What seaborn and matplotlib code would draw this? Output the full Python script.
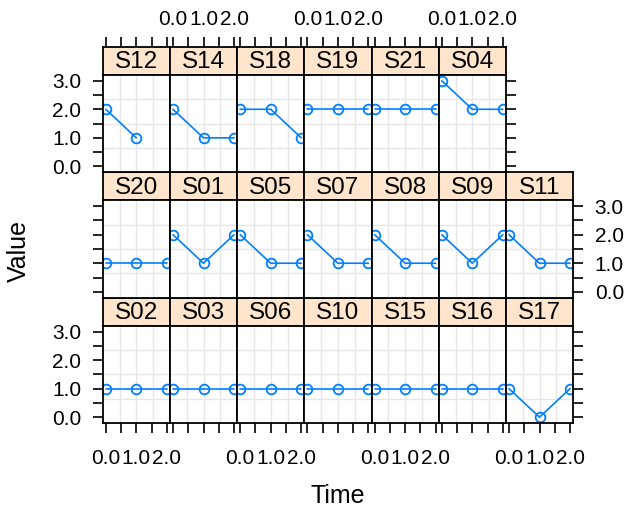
import matplotlib.pyplot as plt
import numpy as np
import pandas as pd
import seaborn as sns

plt.switch_backend("Agg")

# panels in trellis order: bottom-left first, then row by row upwards
subjects = ["S02", "S03", "S06", "S10", "S15", "S16", "S17",
            "S20", "S01", "S05", "S07", "S08", "S09", "S11",
            "S12", "S14", "S18", "S19", "S21", "S04"]
times = [0, 1, 2]
values = [[1, 1, 1], [1, 1, 1], [1, 1, 1], [1, 1, 1], [1, 1, 1], [1, 1, 1], [1, 0, 1],
          [1, 1, 1], [2, 1, 2], [2, 1, 1], [2, 1, 1], [2, 1, 1], [2, 1, 2], [2, 1, 1],
          [2, 1], [2, 1, 1], [2, 2, 1], [2, 2, 2], [2, 2, 2], [3, 2, 2]]

x_ticks = [0.0, 0.5, 1.0, 1.5, 2.0]
x_labels = ["0.0", "", "1.0", "", "2.0"]
y_ticks = [0.0, 0.5, 1.0, 1.5, 2.0, 2.5, 3.0]
y_labels = ["0.0", "", "1.0", "", "2.0", "", "3.0"]

rows = [(s, t, v) for s, vals in zip(subjects, values) for t, v in zip(times, vals)]
df = pd.DataFrame(rows, columns=["Subject", "Time", "Value"])

sns.set_theme(style="white")
plt.rcParams["font.family"] = ["Liberation Sans", "DejaVu Sans"]

# --- layout (pixels) ---
W, H = 626, 509
LEFT, COL_W = 102.7, 67.2
TOP, STRIP_H, PANEL_H = 46.7, 28.3, 97.1
NCOL = 7
LINE = "#0080ff"
TICK_FS = 15
STRIP_FS = 17.5
LAB_FS = 18


def frac(x, y, w, h):
    return [x / W, 1 - (y + h) / H, w / W, h / H]


fig = plt.figure(figsize=(W / 100, H / 100), dpi=100)

for i, subj in enumerate(subjects):
    row = 2 - i // NCOL  # 0 = top row
    col = i % NCOL
    last_in_row = (col == NCOL - 1) or (i == len(subjects) - 1)
    x0 = LEFT + col * COL_W
    y0 = TOP + row * (STRIP_H + PANEL_H)

    strip = fig.add_axes(frac(x0, y0, COL_W, STRIP_H))
    ax = fig.add_axes(frac(x0, y0 + STRIP_H, COL_W, PANEL_H))

    # light reference grid at quarters of the panel
    for f in (0.25, 0.5, 0.75):
        ax.plot([f, f], [0, 1], transform=ax.transAxes, color="#e6e6e6", lw=1, zorder=0)
        ax.plot([0, 1], [f, f], transform=ax.transAxes, color="#e6e6e6", lw=1, zorder=0)

    sub = df[df["Subject"] == subj]
    sns.lineplot(data=sub, x="Time", y="Value", ax=ax, color=LINE, marker="o",
                 markersize=7, markerfacecolor="none", markeredgecolor=LINE,
                 markeredgewidth=1.3, linewidth=1.2, estimator=None, errorbar=None,
                 legend=False)
    ax.set_xlabel("")
    ax.set_ylabel("")
    ax.set_xlim(-0.1, 2.1)
    ax.set_ylim(-0.2, 3.2)
    ax.set_xticks(x_ticks)
    ax.set_xticklabels(x_labels)
    ax.set_yticks(y_ticks)
    ax.set_yticklabels(y_labels)
    ax.tick_params(bottom=False, top=False, left=False, right=False,
                   labelbottom=False, labeltop=False, labelleft=False, labelright=False,
                   length=7.5, width=1.2, color="black", labelsize=TICK_FS,
                   labelcolor="black", direction="out")
    ax.tick_params(axis="x", pad=11.5)
    ax.tick_params(axis="y", pad=8)

    if row == 2:
        ax.tick_params(bottom=True, labelbottom=(col % 2 == 0))
    if col == 0:
        ax.tick_params(left=True, labelleft=(row != 1))
    if last_in_row:
        ax.tick_params(right=True, labelright=(row == 1))

    # strip
    strip.set_facecolor("#ffe5cc")
    strip.set_xlim(-0.1, 2.1)
    strip.set_ylim(0, 1)
    strip.set_yticks([])
    strip.set_xticks(x_ticks)
    strip.set_xticklabels(x_labels)
    strip.tick_params(bottom=False, top=False, left=False, right=False,
                      labelbottom=False, labeltop=False,
                      length=7.5, width=1.2, color="black", labelsize=TICK_FS,
                      labelcolor="black", direction="out", pad=5.5)
    if row == 0:
        strip.tick_params(top=True, labeltop=(col % 2 == 1))
    strip.text(0.5, 0.45, subj, transform=strip.transAxes, ha="center", va="center",
               fontsize=STRIP_FS, color="black")

    for a in (ax, strip):
        for sp in a.spines.values():
            sp.set_color("black")
            sp.set_linewidth(1.3)
            sp.set_visible(True)

fig.text(19 / W, 1 - 251 / H, "Value", rotation=90, ha="center", va="center",
         fontsize=LAB_FS, color="black")
fig.text(338 / W, 1 - 496 / H, "Time", ha="center", va="center",
         fontsize=LAB_FS, color="black")

fig.savefig("out.png", dpi=100)
plt.close(fig)
